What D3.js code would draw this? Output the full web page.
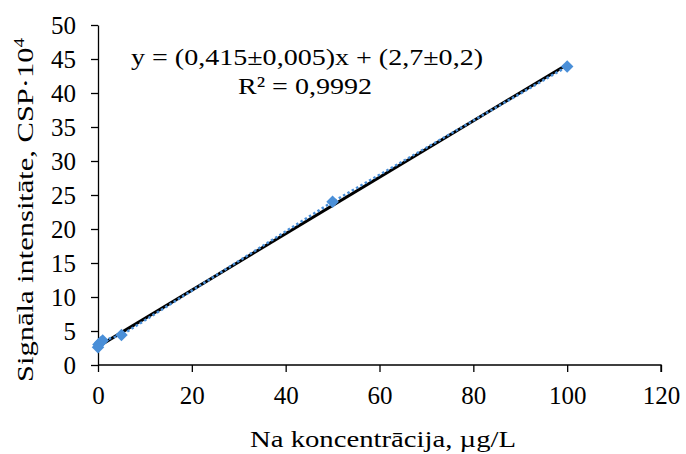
<!DOCTYPE html>
<html>
<head>
<meta charset="utf-8">
<script src="https://cdn.jsdelivr.net/npm/d3@7"></script>
<style>
  body { margin: 0; background: #fff; }
  svg text { font-family: 'Liberation Serif', 'DejaVu Serif', serif; fill: #000; }
</style>
</head>
<body>
<svg id="chart" width="686" height="454"></svg>
<script>
// Na calibration data (µg/L vs signal ×10^4)
const concentration = [0, 0.1, 0.5, 1, 5, 50, 100];
const signal = [2.6, 3.0, 3.3, 3.6, 4.4, 24.0, 43.9];
const xTicks = [0, 20, 40, 60, 80, 100, 120];
const yTicks = [0, 5, 10, 15, 20, 25, 30, 35, 40, 45, 50];
const slope = 0.415, intercept = 2.7;

const margin = {top: 25, right: 25, bottom: 89, left: 98};
const width = 686, height = 454;

const svg = d3.select('#chart');

const xScale = d3.scaleLinear().domain([0, 120]).range([margin.left, width - margin.right]);
const yScale = d3.scaleLinear().domain([0, 50]).range([height - margin.bottom, margin.top]);

const xAxis = d3.axisBottom(xScale).tickValues(xTicks).tickSize(7).tickSizeOuter(0).tickPadding(14);
const yAxis = d3.axisLeft(yScale).tickValues(yTicks).tickSize(7).tickSizeOuter(0).tickPadding(15);

const xAxisG = svg.append('g')
    .attr('transform', `translate(0,${yScale(0)})`)
    .call(xAxis);
const yAxisG = svg.append('g')
    .attr('transform', `translate(${xScale(0)},0)`)
    .call(yAxis);

[xAxisG, yAxisG].forEach(g => {
  g.select('.domain').attr('stroke', '#000').attr('stroke-width', 1.3);
  g.selectAll('.tick line').attr('stroke', '#000').attr('stroke-width', 1.3);
  g.selectAll('.tick text').attr('fill', '#000').style('font-size', '25px');
});
// right end tick on x axis
xAxisG.select('.domain').attr('d', `M${xScale(0)},0H${xScale(120)}V7`);

// trendline
svg.append('line')
    .attr('x1', xScale(0)).attr('y1', yScale(intercept))
    .attr('x2', xScale(100)).attr('y2', yScale(slope * 100 + intercept))
    .attr('stroke', '#000').attr('stroke-width', 3);

const pts = concentration.map((c, i) => ({x: c, y: signal[i]}));

// dotted series line
svg.append('path')
    .datum(pts)
    .attr('fill', 'none')
    .attr('stroke', '#4a8fd8')
    .attr('stroke-width', 2.5)
    .attr('stroke-dasharray', '2.5,2.5')
    .attr('d', d3.line().x(d => xScale(d.x)).y(d => yScale(d.y)));

// diamond markers
svg.selectAll('.marker')
    .data(pts)
    .enter()
  .append('path')
    .attr('class', 'marker')
    .attr('transform', d => `translate(${xScale(d.x)},${yScale(d.y)})`)
    .attr('d', d3.symbol().type(d3.symbolDiamond2).size(100))
    .attr('fill', '#4a8fd8');

// equation
svg.append('text')
    .attr('x', 131).attr('y', 65)
    .attr('font-size', 24)
    .attr('textLength', 352).attr('lengthAdjust', 'spacingAndGlyphs')
    .text('y = (0,415±0,005)x + (2,7±0,2)');
svg.append('text')
    .attr('x', 238).attr('y', 94)
    .attr('font-size', 24)
    .attr('textLength', 134).attr('lengthAdjust', 'spacingAndGlyphs')
    .text('R² = 0,9992');

// axis titles
svg.append('text')
    .attr('x', 250).attr('y', 447)
    .attr('font-size', 24)
    .attr('textLength', 266).attr('lengthAdjust', 'spacingAndGlyphs')
    .text('Na koncentrācija, µg/L');

const yTitle = svg.append('text')
    .attr('transform', 'translate(33,382) rotate(-90)')
    .attr('font-size', 24)
    .attr('textLength', 344).attr('lengthAdjust', 'spacingAndGlyphs');
yTitle.append('tspan').text('Signāla intensitāte, CSP·10');
yTitle.append('tspan').attr('font-size', 15).attr('dy', -9).text('4');
</script>
</body>
</html>
